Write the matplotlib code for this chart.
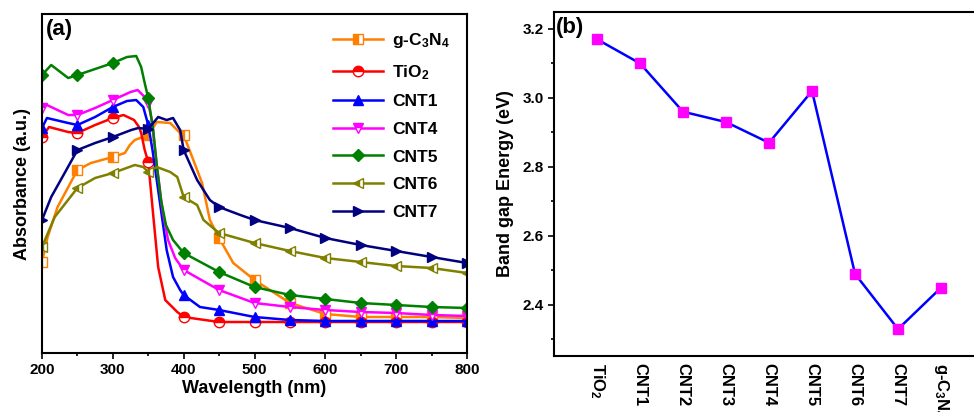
import matplotlib
matplotlib.use("Agg")
import matplotlib.pyplot as plt

plt.rcParams['font.family'] = ['Liberation Sans', 'DejaVu Sans']
plt.rcParams['font.weight'] = 'bold'
plt.rcParams['axes.labelweight'] = 'bold'
plt.rcParams['mathtext.fontset'] = 'custom'
plt.rcParams['mathtext.rm'] = 'Liberation Sans:bold'
plt.rcParams['mathtext.bf'] = 'Liberation Sans:bold'
plt.rcParams['mathtext.default'] = 'bf'

# (a) absorbance spectra
wl_gcn = [200, 208, 222, 250, 269, 300, 317, 324, 331, 350, 362, 381, 395, 400, 412, 426, 437, 450, 470, 500, 550, 600, 650, 700, 750, 800]
abs_gcn = [0.91, 1.16, 1.46, 1.83, 1.90, 1.96, 2.00, 2.08, 2.13, 2.18, 2.31, 2.30, 2.20, 2.18, 1.96, 1.70, 1.33, 1.15, 0.90, 0.73, 0.50, 0.39, 0.36, 0.36, 0.36, 0.35]

wl_tio2 = [200, 210, 237, 250, 275, 300, 315, 330, 337, 340, 345, 350, 357, 364, 374, 391, 400, 450, 500, 550, 600, 650, 700, 750, 800]
abs_tio2 = [2.16, 2.26, 2.21, 2.20, 2.28, 2.35, 2.38, 2.33, 2.26, 2.20, 2.03, 1.91, 1.38, 0.86, 0.53, 0.41, 0.36, 0.31, 0.31, 0.31, 0.31, 0.31, 0.31, 0.31, 0.31]

wl_cnt1 = [200, 207, 237, 250, 275, 300, 320, 333, 343, 350, 356, 366, 376, 385, 395, 400, 423, 450, 500, 550, 600, 650, 700, 750, 800]
abs_cnt1 = [2.25, 2.35, 2.30, 2.28, 2.36, 2.46, 2.52, 2.53, 2.46, 2.28, 2.03, 1.53, 1.03, 0.76, 0.63, 0.58, 0.46, 0.43, 0.36, 0.33, 0.32, 0.32, 0.32, 0.32, 0.32]

wl_cnt4 = [200, 207, 237, 250, 275, 300, 325, 335, 345, 350, 355, 362, 370, 378, 388, 400, 450, 500, 550, 600, 650, 700, 750, 800]
abs_cnt4 = [2.45, 2.48, 2.38, 2.38, 2.45, 2.53, 2.61, 2.63, 2.56, 2.50, 2.33, 1.88, 1.43, 1.13, 0.95, 0.83, 0.63, 0.50, 0.46, 0.43, 0.41, 0.40, 0.38, 0.37]

wl_cnt5 = [200, 213, 237, 250, 275, 300, 320, 333, 340, 345, 350, 357, 362, 368, 375, 385, 400, 450, 500, 550, 600, 650, 700, 750, 800]
abs_cnt5 = [2.78, 2.88, 2.75, 2.78, 2.84, 2.90, 2.96, 2.97, 2.86, 2.70, 2.55, 2.23, 1.88, 1.53, 1.28, 1.13, 1.00, 0.81, 0.66, 0.58, 0.54, 0.50, 0.48, 0.46, 0.45]

wl_cnt6 = [200, 218, 250, 275, 300, 331, 343, 350, 362, 381, 391, 400, 419, 428, 450, 500, 550, 600, 650, 700, 750, 800]
abs_cnt6 = [1.06, 1.36, 1.65, 1.75, 1.80, 1.88, 1.86, 1.81, 1.86, 1.81, 1.76, 1.56, 1.48, 1.33, 1.20, 1.10, 1.02, 0.95, 0.91, 0.87, 0.85, 0.80]

wl_cnt7 = [200, 213, 232, 250, 275, 300, 326, 336, 350, 364, 376, 385, 395, 400, 419, 437, 450, 480, 500, 550, 600, 650, 700, 750, 800]
abs_cnt7 = [1.33, 1.56, 1.80, 2.03, 2.10, 2.16, 2.23, 2.25, 2.24, 2.36, 2.33, 2.35, 2.23, 2.03, 1.73, 1.53, 1.46, 1.38, 1.33, 1.25, 1.15, 1.08, 1.02, 0.96, 0.90]

# (b) band gap energies
samples = ['TiO$_2$', 'CNT1', 'CNT2', 'CNT3', 'CNT4', 'CNT5', 'CNT6', 'CNT7', 'g-C$_3$N$_4$']
band_gap = [3.17, 3.10, 2.96, 2.93, 2.87, 3.02, 2.49, 2.33, 2.45]


def marker_idx(wl):
    """only put a symbol every 50 nm"""
    return [i for i, w in enumerate(wl) if w % 50 == 0]


fig = plt.figure(figsize=(9.74, 4.12), dpi=100)
ax1 = fig.add_axes([0.0431, 0.1432, 0.4364, 0.8228])
ax2 = fig.add_axes([0.5688, 0.1359, 0.4415, 0.835])

series = [
    (wl_gcn, abs_gcn, '#ff7f00', 's', 'left', 'g-C$_3$N$_4$'),
    (wl_tio2, abs_tio2, '#ff0000', 'o', 'top', 'TiO$_2$'),
    (wl_cnt1, abs_cnt1, '#0000ff', '^', 'full', 'CNT1'),
    (wl_cnt4, abs_cnt4, '#ff00ff', 'v', 'top', 'CNT4'),
    (wl_cnt5, abs_cnt5, '#008000', 'D', 'full', 'CNT5'),
    (wl_cnt6, abs_cnt6, '#808000', '<', 'left', 'CNT6'),
    (wl_cnt7, abs_cnt7, '#000080', '>', 'full', 'CNT7'),
]
for wl, ab, col, mk, fs, lab in series:
    ax1.plot(wl, ab, color=col, lw=1.8, marker=mk, markersize=7.5 if mk != 'D' else 6.5,
             fillstyle=fs, markerfacecoloralt='white', markeredgecolor=col,
             markerfacecolor=col, markeredgewidth=1.0,
             markevery=marker_idx(wl), label=lab)

ax1.set_xlim(200, 800)
ax1.set_ylim(0, 3.39)
ax1.set_xticks([200, 300, 400, 500, 600, 700, 800])
ax1.set_xticks(range(250, 800, 100), minor=True)
ax1.set_yticks([])
ax1.tick_params(axis='x', which='major', direction='out', length=4, width=1.2, labelsize=11)
ax1.tick_params(axis='x', which='minor', direction='out', length=2.5, width=1.2)
for lbl in ax1.get_xticklabels():
    lbl.set_fontweight('bold')
ax1.set_xlabel('Wavelength (nm)', fontsize=13, fontweight='bold', labelpad=2)
ax1.set_ylabel('Absorbance (a.u.)', fontsize=13, fontweight='bold', labelpad=8)
for sp in ax1.spines.values():
    sp.set_linewidth(1.5)
ax1.text(0.01, 0.985, '(a)', transform=ax1.transAxes, fontsize=16, fontweight='bold',
         va='top', ha='left')
leg = ax1.legend(loc='upper right', frameon=False, handlelength=2.9,
                 labelspacing=0.72, borderaxespad=0.6, handletextpad=0.5,
                 prop={'weight': 'bold', 'size': 12.5})

# (b)
pos = list(range(len(samples)))
ax2.plot(pos, band_gap, color='#0000ff', lw=1.8, marker='s', markersize=7,
         markerfacecolor='#ff00ff', markeredgecolor='#ff00ff')
ax2.set_xlim(-1, 9)
ax2.set_ylim(2.252, 3.249)
ax2.set_yticks([2.4, 2.6, 2.8, 3.0, 3.2])
ax2.set_yticks([2.3, 2.5, 2.7, 2.9, 3.1], minor=True)
ax2.set_yticklabels(['2.4', '2.6', '2.8', '3.0', '3.2'], fontweight='bold', fontsize=11)
ax2.set_xticks(pos)
ax2.set_xticklabels(samples, rotation=-90, fontweight='bold', fontsize=12, va='top')
ax2.tick_params(axis='x', length=0, pad=5)
ax2.tick_params(axis='y', which='major', direction='out', length=4, width=1.2)
ax2.tick_params(axis='y', which='minor', direction='out', length=2.5, width=1.2)
ax2.set_ylabel('Band gap Energy (eV)', fontsize=13, fontweight='bold', labelpad=6)
for sp in ax2.spines.values():
    sp.set_linewidth(1.5)
ax2.text(0.005, 0.985, '(b)', transform=ax2.transAxes, fontsize=16, fontweight='bold',
         va='top', ha='left')

fig.savefig('out.png', dpi=100)
